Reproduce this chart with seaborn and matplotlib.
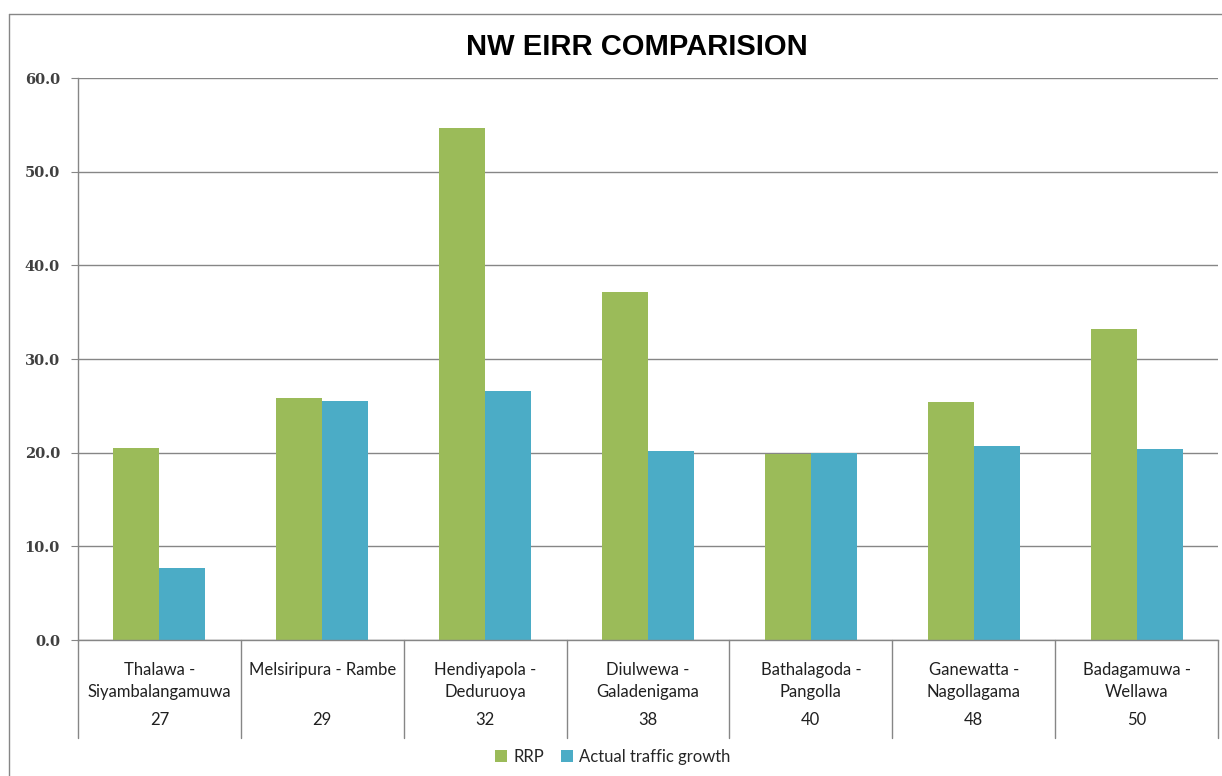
import pandas as pd
import numpy as np
import matplotlib
matplotlib.use('Agg')
import matplotlib.pyplot as plt
import matplotlib.transforms as mtransforms
import seaborn as sns

# Data
sections = ['Thalawa -\nSiyambalangamuwa', 'Melsiripura - Rambe', 'Hendiyapola -\nDeduruoya',
            'Diulwewa -\nGaladenigama', 'Bathalagoda -\nPangolla', 'Ganewatta -\nNagollagama',
            'Badagamuwa -\nWellawa']
section_ids = ['27', '29', '32', '38', '40', '48', '50']
rrp = [20.5, 25.8, 54.7, 37.2, 19.9, 25.4, 33.2]
actual_growth = [7.7, 25.5, 26.6, 20.2, 20.0, 20.7, 20.4]
series_names = ['RRP', 'Actual traffic growth']
colors = ['#9BBB59', '#4BACC6']

df = pd.DataFrame({
    'Section': sections * 2,
    'Series': [series_names[0]] * len(sections) + [series_names[1]] * len(sections),
    'EIRR': rrp + actual_growth,
})

sns.set_style('white')
plt.rcParams['font.family'] = ['Lato', 'DejaVu Sans']

fig = plt.figure(figsize=(12.22, 7.76), dpi=100)
ax = fig.add_axes([78 / 1222, 136 / 776, 1140 / 1222, 562 / 776])

sns.barplot(data=df, x='Section', y='EIRR', hue='Series', palette=colors,
            width=0.565, gap=0, saturation=1, linewidth=0, edgecolor='none', ax=ax, legend=True)

ax.set_ylim(0, 60)
ax.set_xlim(-0.5, len(sections) - 0.5)
ax.set_yticks(np.arange(0, 61, 10))
ax.set_yticklabels([f'{v:.1f}' for v in np.arange(0, 61, 10)], fontsize=10.5,
                   fontweight='bold', color='#404040', family=['DejaVu Serif'])
ax.yaxis.grid(True, color='#868686', linewidth=1)
ax.set_axisbelow(True)
ax.tick_params(axis='y', length=5, color='#868686', pad=8, left=True)
ax.tick_params(axis='x', length=0, pad=16)
ax.set_xticks(range(len(sections)))
ax.set_xticklabels(sections, fontsize=12, color='#202020', va='top', linespacing=1.45)
ax.set_xlabel('')
ax.set_ylabel('')
for side in ['top', 'right']:
    ax.spines[side].set_visible(False)
for side in ['left', 'bottom']:
    ax.spines[side].set_color('#868686')
    ax.spines[side].set_linewidth(1)

# multi-level category axis: separators and section numbers
trans = mtransforms.blended_transform_factory(ax.transData, ax.transAxes)
for b in np.arange(-0.5, len(sections), 1.0):
    ax.plot([b, b], [0, -0.175], color='#868686', linewidth=1, transform=trans, clip_on=False)
for i, s in enumerate(section_ids):
    ax.text(i, -0.143, s, transform=trans, ha='center', va='center', fontsize=12, color='#202020')

ax.get_legend().remove()
handles, labels = ax.get_legend_handles_labels()
fig.legend(handles, labels, loc='center', bbox_to_anchor=(613 / 1222, 1 - 757 / 776), ncol=2,
           frameon=False, fontsize=12, handlelength=0.7, handleheight=0.7, handletextpad=0.4,
           columnspacing=1.0)

fig.text(637 / 1222, 1 - 47 / 776, 'NW EIRR COMPARISION', ha='center', va='center',
         fontsize=21, fontweight='bold', color='black', family=['Liberation Sans', 'DejaVu Sans'])

# outer chart border (left and top edges)
fig.add_artist(plt.Line2D([9 / 1222, 9 / 1222], [0, 1 - 14 / 776], transform=fig.transFigure,
                          color='#868686', linewidth=1))
fig.add_artist(plt.Line2D([9 / 1222, 1], [1 - 14 / 776, 1 - 14 / 776], transform=fig.transFigure,
                          color='#868686', linewidth=1))

fig.savefig('out.png', dpi=100)
